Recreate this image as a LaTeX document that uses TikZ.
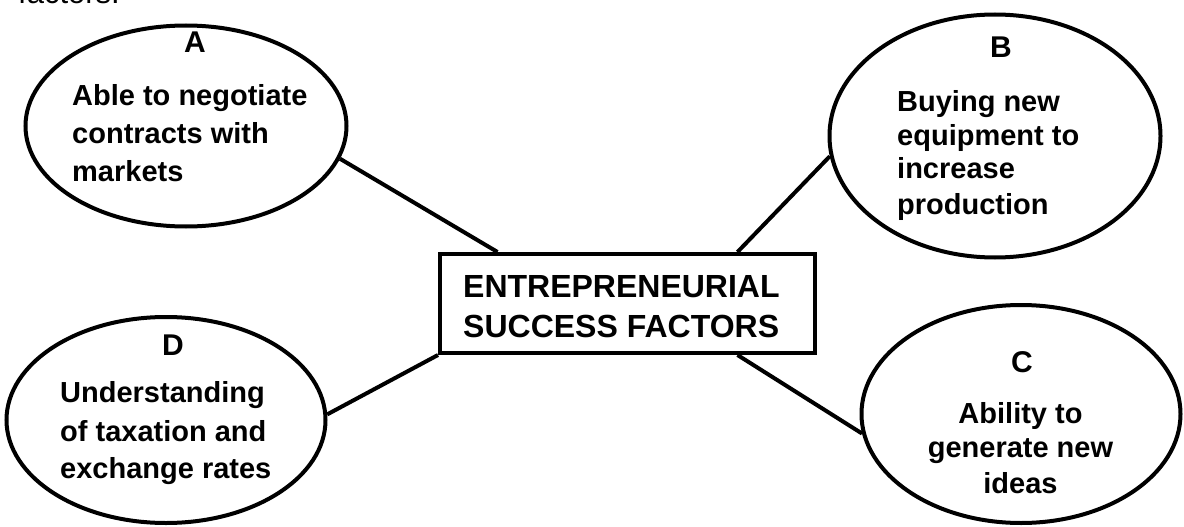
\documentclass[tikz,border=0pt]{standalone}
\usepackage{fontspec}
\setmainfont{Liberation Sans}
\usetikzlibrary{shapes.geometric}
\tikzset{
  oval/.style={draw, ellipse, line width=4pt, inner sep=0pt},
  conn/.style={line width=4pt},
  lbl/.style={anchor=base, inner sep=0pt, font=\fontsize{30}{35}\selectfont\bfseries},
  bodyl/.style={anchor=base west, inner sep=0pt, font=\fontsize{29}{35}\selectfont\bfseries},
  bodyc/.style={anchor=base, inner sep=0pt, font=\fontsize{29}{35}\selectfont\bfseries},
  boxt/.style={anchor=base west, inner sep=0pt, font=\fontsize{32}{40}\selectfont\bfseries}
}
\begin{document}
\begin{tikzpicture}[x=1pt,y=-1pt]
\useasboundingbox (0,0) rectangle (1184,527);
\fill[white] (0,0) rectangle (1184,527);
\begin{scope}
\clip (0,0) rectangle (1184,527);
\node[anchor=base west, inner sep=0pt, font=\fontsize{31}{36}\selectfont] (top) at (18,4) {factors.};

% ellipses
\node[oval, minimum width=321pt, minimum height=201pt] (A) at (186,126) {};
\node[oval, minimum width=331pt, minimum height=243pt] (B) at (995,136) {};
\node[oval, minimum width=319pt, minimum height=218pt] (C) at (1021,414) {};
\node[oval, minimum width=319pt, minimum height=206pt] (D) at (166,420) {};

% centre box
\node[draw, line width=4pt, minimum width=375pt, minimum height=99pt, inner sep=0pt] (box) at (627.5,303.5) {};

% connectors
\draw[conn] (A.-12) -- ([xshift=-130pt]box.north);
\draw[conn] (B.187) -- ([xshift=110pt]box.north);
\draw[conn] (C.187) -- ([xshift=110pt]box.south);
\draw[conn] (D.2) -- (box.south west);

% texts
\node[boxt] (t1) at (463,297) {ENTREPRENEURIAL};
\node[boxt] (t2) at (463,337) {SUCCESS FACTORS};

\node[lbl] (la) at (195,53) {A};
\node[bodyl] (a1) at (72,106) {Able to negotiate};
\node[bodyl] (a2) at (72,143) {contracts with};
\node[bodyl] (a3) at (72,181) {markets};

\node[lbl] (lb) at (1001,58) {B};
\node[bodyl] (b1) at (897,111) {Buying new};
\node[bodyl] (b2) at (897,145) {equipment to};
\node[bodyl] (b3) at (897,178) {increase};
\node[bodyl] (b4) at (897,214) {production};

\node[lbl] (lc) at (1022,372) {C};
\node[bodyc] (c1) at (1020.5,423) {Ability to};
\node[bodyc] (c2) at (1020.5,457) {generate new};
\node[bodyc] (c3) at (1020.5,493) {ideas};

\node[lbl] (ld) at (173,355) {D};
\node[bodyl] (d1) at (60,402) {Understanding};
\node[bodyl] (d2) at (60,441) {of taxation and};
\node[bodyl] (d3) at (60,478) {exchange rates};
\end{scope}
\end{tikzpicture}
\end{document}
